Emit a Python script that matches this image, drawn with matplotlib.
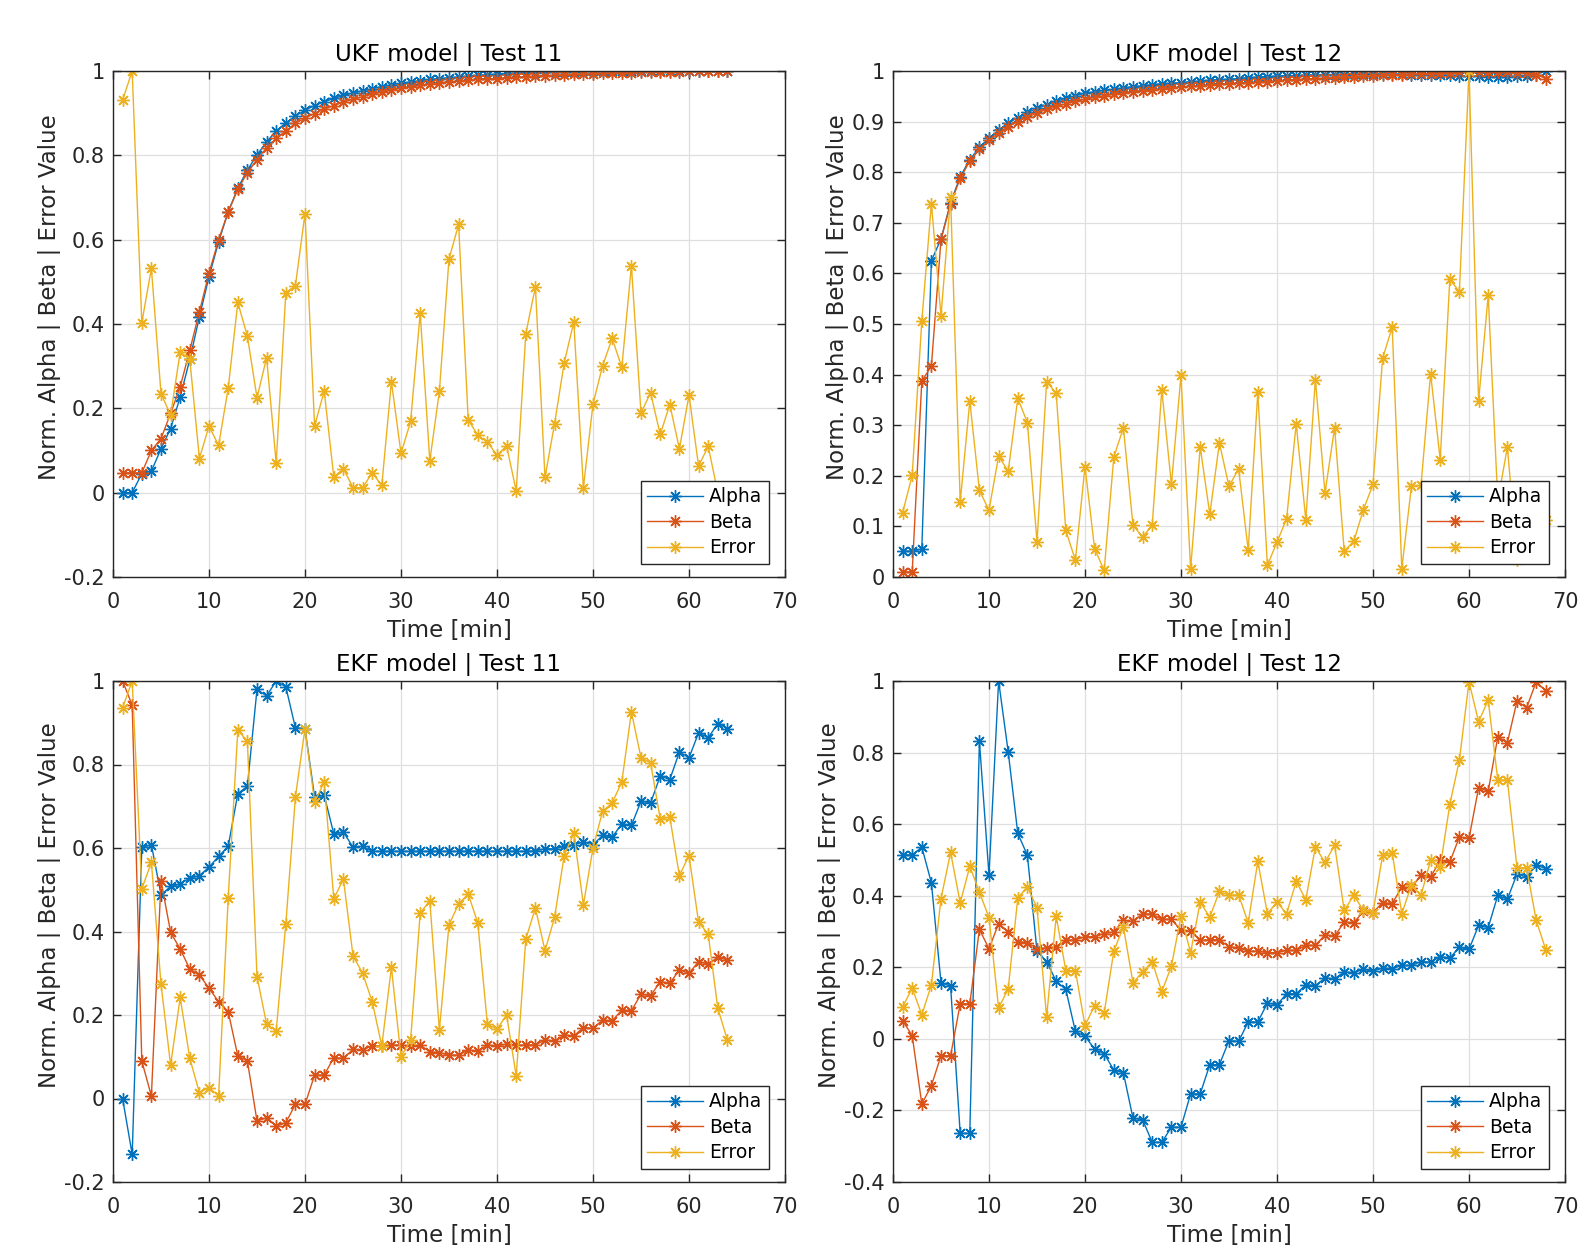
import matplotlib
matplotlib.use("Agg")
import matplotlib.pyplot as plt
from matplotlib.ticker import FormatStrFormatter, MultipleLocator

plt.rcParams['font.family'] = ['DejaVu Sans']
plt.rcParams['axes.unicode_minus'] = False

# ---- data (values per minute, 1..N) ----
ukf11_alpha = [0.0, 0.0, 0.045, 0.051, 0.104, 0.152, 0.227, 0.316, 0.417, 0.512,
               0.595, 0.666, 0.722, 0.765, 0.801, 0.832, 0.858, 0.877, 0.893, 0.907,
               0.918, 0.927, 0.935, 0.942, 0.948, 0.953, 0.958, 0.963, 0.967, 0.971,
               0.974, 0.977, 0.980, 0.982, 0.984, 0.986, 0.988, 0.990, 0.991, 0.993,
               0.994, 0.995, 0.996, 0.996, 0.997, 0.997, 0.998, 0.998, 0.999, 0.999,
               0.999, 0.999, 0.999, 1.0, 1.0, 1.0, 1.0, 1.0, 1.0, 1.0,
               1.0, 1.0, 1.0, 1.0]
ukf11_beta = [0.047, 0.047, 0.047, 0.100, 0.128, 0.188, 0.251, 0.338, 0.429, 0.521,
              0.600, 0.666, 0.719, 0.759, 0.790, 0.818, 0.840, 0.858, 0.876, 0.888,
              0.899, 0.909, 0.918, 0.926, 0.933, 0.939, 0.945, 0.950, 0.955, 0.959,
              0.963, 0.966, 0.969, 0.972, 0.974, 0.976, 0.978, 0.980, 0.981, 0.982,
              0.984, 0.985, 0.986, 0.988, 0.989, 0.990, 0.991, 0.992, 0.993, 0.994,
              0.995, 0.995, 0.996, 0.996, 0.997, 0.997, 0.998, 0.998, 0.998, 0.999,
              0.999, 0.999, 1.0, 1.0]
ukf11_error = [0.931, 1.0, 0.403, 0.532, 0.235, 0.184, 0.334, 0.316, 0.081, 0.158,
               0.112, 0.248, 0.451, 0.371, 0.225, 0.320, 0.070, 0.474, 0.491, 0.662,
               0.158, 0.241, 0.037, 0.057, 0.012, 0.012, 0.047, 0.017, 0.263, 0.093,
               0.169, 0.426, 0.075, 0.241, 0.554, 0.636, 0.173, 0.136, 0.120, 0.089,
               0.111, 0.004, 0.377, 0.488, 0.036, 0.164, 0.308, 0.405, 0.012, 0.210,
               0.301, 0.366, 0.297, 0.538, 0.189, 0.237, 0.138, 0.209, 0.104, 0.231,
               0.063, 0.110, 0.0, 0.01]

ukf12_alpha = [0.051, 0.051, 0.055, 0.625, 0.668, 0.740, 0.791, 0.825, 0.849, 0.867,
               0.883, 0.897, 0.908, 0.918, 0.926, 0.933, 0.940, 0.946, 0.951, 0.956,
               0.959, 0.962, 0.964, 0.967, 0.969, 0.971, 0.973, 0.975, 0.976, 0.977,
               0.979, 0.980, 0.982, 0.983, 0.984, 0.985, 0.987, 0.988, 0.989, 0.990,
               0.991, 0.991, 0.992, 0.992, 0.993, 0.993, 0.993, 0.994, 0.994, 0.994,
               0.994, 0.994, 0.994, 0.993, 0.993, 0.993, 0.992, 0.992, 0.991, 0.990,
               0.990, 0.989, 0.989, 0.989, 0.990, 0.991, 0.993, 1.0]
ukf12_beta = [0.010, 0.010, 0.387, 0.417, 0.667, 0.738, 0.788, 0.822, 0.845, 0.863,
              0.878, 0.890, 0.900, 0.909, 0.917, 0.924, 0.930, 0.935, 0.940, 0.944,
              0.948, 0.951, 0.954, 0.957, 0.959, 0.961, 0.963, 0.965, 0.967, 0.968,
              0.970, 0.971, 0.973, 0.974, 0.975, 0.976, 0.977, 0.978, 0.979, 0.980,
              0.982, 0.983, 0.984, 0.985, 0.986, 0.987, 0.988, 0.989, 0.990, 0.991,
              0.992, 0.993, 0.993, 0.994, 0.995, 0.995, 0.996, 0.997, 0.998, 0.999,
              0.999, 0.999, 0.998, 0.998, 0.997, 0.996, 0.993, 0.985]
ukf12_error = [0.127, 0.201, 0.506, 0.738, 0.516, 0.751, 0.148, 0.348, 0.171, 0.132,
               0.239, 0.209, 0.353, 0.305, 0.069, 0.386, 0.363, 0.092, 0.033, 0.218,
               0.056, 0.013, 0.237, 0.295, 0.102, 0.079, 0.102, 0.370, 0.183, 0.399,
               0.015, 0.257, 0.124, 0.265, 0.179, 0.214, 0.053, 0.365, 0.023, 0.069,
               0.115, 0.303, 0.113, 0.390, 0.166, 0.295, 0.051, 0.071, 0.133, 0.183,
               0.432, 0.494, 0.016, 0.179, 0.181, 0.402, 0.232, 0.588, 0.564, 1.0,
               0.348, 0.557, 0.15, 0.257, 0.033, 0.12, 0.15, 0.112]

ekf11_alpha = [0.0, -0.134, 0.602, 0.608, 0.488, 0.508, 0.514, 0.528, 0.534, 0.554,
               0.580, 0.604, 0.730, 0.748, 0.980, 0.964, 1.0, 0.986, 0.888, 0.886,
               0.722, 0.726, 0.634, 0.638, 0.602, 0.604, 0.592, 0.592, 0.592, 0.592,
               0.592, 0.592, 0.592, 0.592, 0.592, 0.592, 0.592, 0.592, 0.592, 0.592,
               0.592, 0.592, 0.592, 0.593, 0.598, 0.598, 0.604, 0.608, 0.614, 0.608,
               0.630, 0.626, 0.658, 0.654, 0.712, 0.708, 0.772, 0.764, 0.830, 0.816,
               0.876, 0.864, 0.898, 0.886]
ekf11_beta = [1.0, 0.942, 0.090, 0.006, 0.522, 0.398, 0.358, 0.310, 0.296, 0.264,
              0.232, 0.208, 0.102, 0.090, -0.054, -0.046, -0.066, -0.058, -0.014, -0.014,
              0.056, 0.056, 0.098, 0.096, 0.118, 0.116, 0.126, 0.126, 0.128, 0.128,
              0.126, 0.128, 0.112, 0.110, 0.104, 0.104, 0.116, 0.114, 0.128, 0.126,
              0.130, 0.128, 0.128, 0.128, 0.140, 0.138, 0.152, 0.150, 0.170, 0.168,
              0.188, 0.186, 0.212, 0.210, 0.250, 0.246, 0.280, 0.276, 0.308, 0.300,
              0.328, 0.322, 0.338, 0.332]
ekf11_error = [0.936, 1.0, 0.502, 0.566, 0.274, 0.080, 0.242, 0.096, 0.014, 0.026,
               0.006, 0.480, 0.882, 0.856, 0.292, 0.178, 0.162, 0.418, 0.722, 0.886,
               0.710, 0.758, 0.478, 0.526, 0.342, 0.300, 0.232, 0.126, 0.314, 0.100,
               0.140, 0.444, 0.474, 0.164, 0.416, 0.466, 0.490, 0.420, 0.178, 0.166,
               0.200, 0.054, 0.382, 0.456, 0.354, 0.434, 0.582, 0.635, 0.464, 0.600,
               0.688, 0.708, 0.758, 0.926, 0.816, 0.804, 0.670, 0.674, 0.534, 0.582,
               0.422, 0.394, 0.216, 0.140]

ekf12_alpha = [0.515, 0.513, 0.536, 0.436, 0.157, 0.147, -0.264, -0.264, 0.832, 0.457,
               1.0, 0.802, 0.574, 0.513, 0.245, 0.216, 0.161, 0.138, 0.021, 0.007,
               -0.028, -0.042, -0.087, -0.095, -0.222, -0.226, -0.289, -0.289, -0.247, -0.247,
               -0.154, -0.154, -0.072, -0.072, -0.005, -0.007, 0.047, 0.047, 0.100, 0.095,
               0.126, 0.126, 0.151, 0.149, 0.170, 0.168, 0.187, 0.185, 0.194, 0.189,
               0.198, 0.196, 0.205, 0.205, 0.216, 0.214, 0.230, 0.226, 0.256, 0.250,
               0.317, 0.311, 0.401, 0.390, 0.461, 0.452, 0.485, 0.476]
ekf12_beta = [0.051, 0.009, -0.182, -0.131, -0.047, -0.047, 0.098, 0.098, 0.306, 0.252,
              0.322, 0.299, 0.272, 0.269, 0.252, 0.254, 0.257, 0.275, 0.277, 0.285,
              0.286, 0.294, 0.299, 0.331, 0.328, 0.350, 0.348, 0.334, 0.334, 0.303,
              0.301, 0.275, 0.277, 0.277, 0.257, 0.255, 0.245, 0.245, 0.241, 0.241,
              0.247, 0.247, 0.261, 0.261, 0.291, 0.287, 0.326, 0.325, 0.356, 0.353,
              0.381, 0.378, 0.424, 0.422, 0.457, 0.452, 0.499, 0.494, 0.564, 0.560,
              0.702, 0.692, 0.844, 0.828, 0.944, 0.925, 0.998, 0.972]
ekf12_error = [0.089, 0.142, 0.067, 0.151, 0.392, 0.521, 0.380, 0.482, 0.410, 0.339,
               0.086, 0.140, 0.394, 0.424, 0.367, 0.061, 0.343, 0.191, 0.191, 0.037,
               0.093, 0.073, 0.245, 0.313, 0.156, 0.188, 0.215, 0.132, 0.203, 0.343,
               0.241, 0.382, 0.340, 0.412, 0.401, 0.403, 0.324, 0.496, 0.350, 0.382,
               0.350, 0.440, 0.389, 0.536, 0.493, 0.541, 0.359, 0.401, 0.359, 0.353,
               0.513, 0.520, 0.350, 0.429, 0.401, 0.499, 0.480, 0.655, 0.779, 0.998,
               0.886, 0.947, 0.723, 0.723, 0.478, 0.478, 0.331, 0.249]

titles = ['UKF model | Test 11', 'UKF model | Test 12',
          'EKF model | Test 11', 'EKF model | Test 12']
series_names = ['Alpha', 'Beta', 'Error']
colors = ['#0072BD', '#D95319', '#EDB120']

panels = [
    (ukf11_alpha, ukf11_beta, ukf11_error, (-0.2, 1), 0.2),
    (ukf12_alpha, ukf12_beta, ukf12_error, (0, 1), 0.1),
    (ekf11_alpha, ekf11_beta, ekf11_error, (-0.2, 1), 0.2),
    (ekf12_alpha, ekf12_beta, ekf12_error, (-0.4, 1), 0.2),
]

# axes rectangles in figure fractions (1578 x 1253 px)
W, H = 1578.0, 1253.0
rects = [
    (113 / W, 1 - 577 / H, 672 / W, 506 / H),
    (893 / W, 1 - 577 / H, 672 / W, 506 / H),
    (113 / W, 1 - 1182 / H, 672 / W, 501 / H),
    (893 / W, 1 - 1182 / H, 672 / W, 501 / H),
]

fig = plt.figure(figsize=(15.78, 12.53), dpi=100)
star = (8, 2, 0)
axcol = '#262626'

for (a, b, e, ylim, ystep), rect, title in zip(panels, rects, titles):
    ax = fig.add_axes(rect)
    for vals, name, c in zip((a, b, e), series_names, colors):
        t = list(range(1, len(vals) + 1))
        ax.plot(t, vals, color=c, lw=1.0, marker=star, ms=9, mew=1.0, label=name)
    ax.set_xlim(0, 70)
    ax.set_ylim(*ylim)
    ax.xaxis.set_major_locator(MultipleLocator(10))
    ax.yaxis.set_major_locator(MultipleLocator(ystep))
    ax.yaxis.set_major_formatter(FormatStrFormatter('%g'))
    ax.grid(True, color='#dfdfdf', lw=0.9)
    ax.set_axisbelow(True)
    ax.tick_params(direction='in', length=6, width=1, colors=axcol,
                   labelsize=15, top=True, right=True)
    ax.tick_params(axis='x', pad=10.5)
    ax.tick_params(axis='y', pad=6)
    for s in ax.spines.values():
        s.set_color(axcol)
        s.set_linewidth(1.0)
    ax.set_title(title, fontsize=16.5, color='black', pad=7.5)
    ax.set_xlabel('Time [min]', fontsize=16.5, color=axcol, labelpad=5.5)
    ax.set_ylabel('Norm. Alpha | Beta | Error Value', fontsize=16.5, color=axcol, labelpad=2)
    ax.yaxis.label.set_y(0.553)
    leg = ax.legend(loc='lower right', bbox_to_anchor=(0.976, 0.026), borderaxespad=0,
                    fontsize=13.5, fancybox=False, framealpha=1, edgecolor='#262626',
                    handlelength=3.0, labelspacing=0.35, borderpad=0.35,
                    handletextpad=0.3)
    leg.get_frame().set_linewidth(1.0)

fig.savefig('out.png', dpi=100)
